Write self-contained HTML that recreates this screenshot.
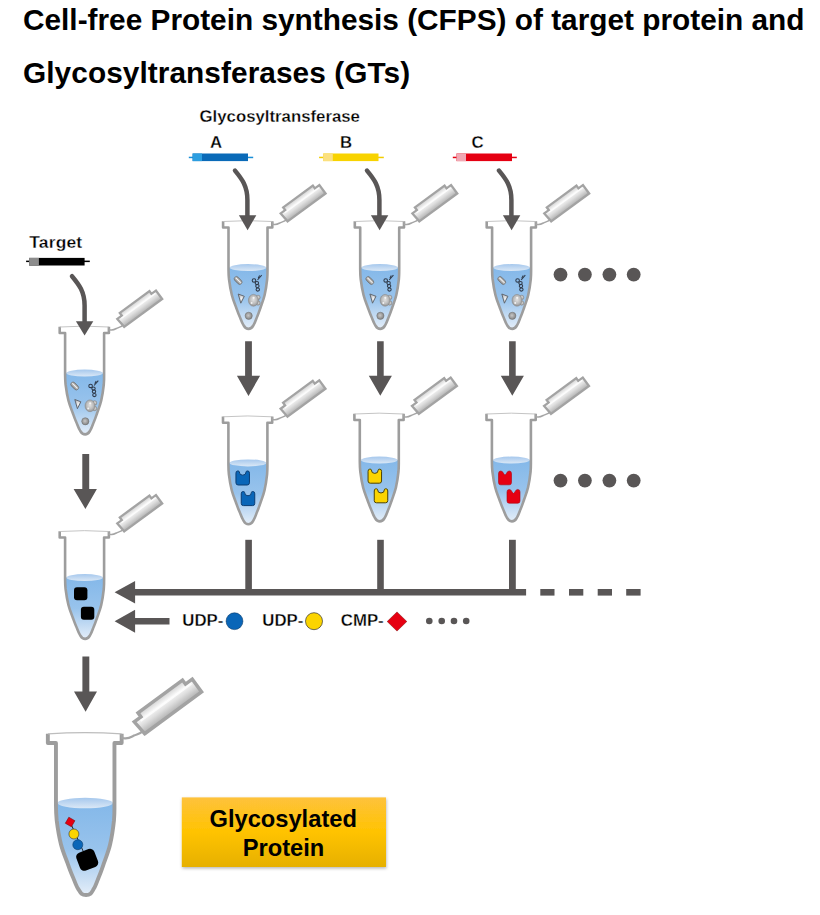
<!DOCTYPE html>
<html><head><meta charset="utf-8">
<style>
html,body{margin:0;padding:0;background:#fff;width:820px;height:915px;overflow:hidden}
svg{position:absolute;left:0;top:0}
text{font-family:"Liberation Sans",sans-serif;font-weight:bold;fill:#000}
.lt{stroke:#fff;stroke-width:0.3px}
</style></head><body>
<svg width="820" height="915" viewBox="0 0 820 915">
<defs>
  <linearGradient id="liq" x1="0" y1="0" x2="0" y2="1">
    <stop offset="0" stop-color="#84b8e9"/>
    <stop offset="0.5" stop-color="#98c3ec"/>
    <stop offset="1" stop-color="#e4eef9"/>
  </linearGradient>
  <linearGradient id="surf" x1="0" y1="0" x2="0" y2="1">
    <stop offset="0" stop-color="#a6c8ed"/>
    <stop offset="1" stop-color="#dbe8f6"/>
  </linearGradient>
  <linearGradient id="capg" x1="0" y1="1" x2="0" y2="0">
    <stop offset="0" stop-color="#b0b0b0"/>
    <stop offset="0.4" stop-color="#dedede"/>
    <stop offset="0.68" stop-color="#f6f6f6"/>
    <stop offset="1" stop-color="#cfcfcf"/>
  </linearGradient>
  <radialGradient id="ball" cx="0.45" cy="0.45" r="0.6">
    <stop offset="0" stop-color="#c8c8c8"/>
    <stop offset="1" stop-color="#7c7c7c"/>
  </radialGradient>
  <radialGradient id="blob" cx="0.5" cy="0.45" r="0.6">
    <stop offset="0" stop-color="#e2e2e2"/>
    <stop offset="0.55" stop-color="#bdbdbd"/>
    <stop offset="1" stop-color="#85888c"/>
  </radialGradient>
  <radialGradient id="tri" cx="0.55" cy="0.5" r="0.6">
    <stop offset="0" stop-color="#f4f4f4"/>
    <stop offset="1" stop-color="#a9adb3"/>
  </radialGradient>
  <linearGradient id="rod" x1="0" y1="0" x2="0" y2="1">
    <stop offset="0" stop-color="#8a8a8a"/>
    <stop offset="0.45" stop-color="#d4d4d4"/>
    <stop offset="1" stop-color="#7e7e7e"/>
  </linearGradient>
  <linearGradient id="box" x1="0" y1="0" x2="0" y2="1">
    <stop offset="0" stop-color="#fec23c"/>
    <stop offset="0.5" stop-color="#ffc300"/>
    <stop offset="1" stop-color="#e6b000"/>
  </linearGradient>
  <filter id="shd" x="-10%" y="-20%" width="120%" height="150%">
    <feDropShadow dx="0.5" dy="1.5" stdDeviation="1.6" flood-color="#000" flood-opacity="0.28"/>
  </filter>

  <!-- generic tube: origin at rim top centre -->
  

  

  
  
</defs>

<!-- Title -->
<text x="23" y="29.6" font-size="29.8">Cell-free Protein synthesis (CFPS) of target protein and</text>
<text x="23" y="82.9" font-size="29.8" letter-spacing="0.07">Glycosyltransferases (GTs)</text>

<!-- Glycosyltransferase label -->
<text x="199.5" y="122" class="lt" font-size="16.8">Glycosyltransferase</text>
<text x="210" y="148.3" class="lt" font-size="16.8">A</text>
<text x="340" y="148.3" class="lt" font-size="16.8">B</text>
<text x="471.5" y="148.3" class="lt" font-size="16.8">C</text>

<!-- primer bars -->
<g>
  <rect x="188.8" y="156.7" width="64.4" height="1.5" fill="#1a8fd8"/>
  <rect x="192.6" y="153.5" width="55.4" height="7.6" fill="#0a6ab8"/>
  <rect x="192.6" y="153.5" width="9.4" height="7.6" fill="#2c9ee0"/>
  <rect x="319.1" y="156.7" width="64.7" height="1.5" fill="#f2cd00"/>
  <rect x="323.2" y="153.5" width="55.3" height="7.6" fill="#f8d300"/>
  <rect x="323.2" y="153.5" width="9.6" height="7.6" fill="#fbe080"/>
  <rect x="452.8" y="156.7" width="64" height="1.5" fill="#e50012"/>
  <rect x="456.5" y="153.5" width="55.5" height="7.6" fill="#e50012"/>
  <rect x="456.5" y="153.5" width="9.5" height="7.6" fill="#f0a8b4"/>
  <rect x="26.1" y="260.6" width="63.7" height="1.5" fill="#000"/>
  <rect x="29.1" y="257.9" width="55.5" height="7.6" fill="#000"/>
  <rect x="29.1" y="257.9" width="9.8" height="7.6" fill="#8c8c8c"/>
</g>
<text x="29.3" y="248.4" font-size="17.4" class="lt" letter-spacing="0.2">Target</text>

<!-- tubes -->
<g transform="translate(248,221)" ><g>
    <path d="M-19.5,6.5 L-19.50,48 C-19.47,51 -19.45,53.7 -19.01,58 C-18.47,62.3 -17.36,69.25 -16.17,74 C-14.97,78.75 -13.16,82.92 -11.85,86.5 C-10.55,90.08 -9.65,92.72 -8.37,95.5 C-7.25,98 -6.22,101.4 -4.80,103.6 C-3.28,106 -2.86,107.9 0.54,107.9 C3.94,107.9 4.32,106 5.80,103.6 C7.18,101.4 8.15,98 9.23,95.5 C10.45,92.72 11.31,90.08 12.55,86.5 C13.78,82.92 15.53,78.75 16.63,74 C17.74,69.25 18.73,62.3 19.19,58 C19.55,53.7 19.53,51 19.50,48 L19.5,6.5 Z" fill="#fff"/>
    <path d="M-19.5,46.5 L-19.50,48 C-19.47,51 -19.45,53.7 -19.01,58 C-18.47,62.3 -17.36,69.25 -16.17,74 C-14.97,78.75 -13.16,82.92 -11.85,86.5 C-10.55,90.08 -9.65,92.72 -8.37,95.5 C-7.25,98 -6.22,101.4 -4.80,103.6 C-3.28,106 -2.86,107.9 0.54,107.9 C3.94,107.9 4.32,106 5.80,103.6 C7.18,101.4 8.15,98 9.23,95.5 C10.45,92.72 11.31,90.08 12.55,86.5 C13.78,82.92 15.53,78.75 16.63,74 C17.74,69.25 18.73,62.3 19.19,58 C19.55,53.7 19.53,51 19.50,48 L19.5,46.5 Z" fill="url(#liq)"/>
    <ellipse cx="0" cy="46.6" rx="18.5" ry="3.5" fill="url(#surf)"/>
    <path d="M-24.9,0.3 L-24.9,6.5 L-19.5,6.5 L-19.50,48 C-19.47,51 -19.45,53.7 -19.01,58 C-18.47,62.3 -17.36,69.25 -16.17,74 C-14.97,78.75 -13.16,82.92 -11.85,86.5 C-10.55,90.08 -9.65,92.72 -8.37,95.5 C-7.25,98 -6.22,101.4 -4.80,103.6 C-3.28,106 -2.86,107.9 0.54,107.9 C3.94,107.9 4.32,106 5.80,103.6 C7.18,101.4 8.15,98 9.23,95.5 C10.45,92.72 11.31,90.08 12.55,86.5 C13.78,82.92 15.53,78.75 16.63,74 C17.74,69.25 18.73,62.3 19.19,58 C19.55,53.7 19.53,51 19.50,48 L19.5,6.5 L24.3,6.5 L24.3,0.3" fill="none" stroke="#9d9d9d" stroke-width="2.6" stroke-linejoin="round"/>
    <path d="M-24.9,0.5 Q0,-1.2 24.3,0.5" fill="none" stroke="#bdbdbd" stroke-width="0.9"/>
    <path d="M24.3,0.8 L24.6,3.2 L26.5,3.4 C29,3.6 30.5,2.6 32.5,1.6 C34.5,0.6 36.5,0.6 38.5,-1.5" fill="none" stroke="#a5a5a5" stroke-width="1.5"/>
    <g transform="translate(39.4,1.9) rotate(-36.3)">
      <path d="M1.1,-1.1 L48.2,-1.1 L48.2,-11.6 L42.6,-11.6 L42.6,-15 L5.8,-15 L5.8,-11.6 L0.2,-11.6 Z" fill="url(#capg)" stroke="#a3a3a3" stroke-width="2.3" stroke-linejoin="miter"/>
      <path d="M4,-9.6 L46,-9.6" stroke="#ffffff" stroke-width="1.4" opacity="0.8"/>
    </g>
  </g></g>
<g transform="translate(248,221)" ><g>
    <g transform="translate(-9.9,59.5) rotate(45)">
      <rect x="-4.6" y="-2.3" width="9.2" height="4.6" rx="2.3" fill="url(#rod)" stroke="#6f6f6f" stroke-width="0.7"/>
      <path d="M-2.8,-0.3 L2.8,-0.3" stroke="#f4f4f4" stroke-width="0.9" stroke-linecap="round"/>
    </g>
    <g fill="none" stroke="#2f3a4a" stroke-width="1.05">
      <path d="M13.7,54.2 L9.5,59"/>
      <path d="M11.6,54.6 L10.2,57.2"/>
      <ellipse cx="6.0" cy="59.4" rx="1.8" ry="1.7"/>
      <ellipse cx="8.9" cy="62.0" rx="1.7" ry="1.6"/>
      <ellipse cx="9.4" cy="65.1" rx="1.7" ry="1.6"/>
      <ellipse cx="9.8" cy="68.5" rx="1.7" ry="1.6"/>
    </g>
    <path d="M-9.8,73 L-3.7,75.3 L-7.2,82.2 Z" fill="url(#tri)" stroke="#5a6068" stroke-width="0.9" stroke-linejoin="round"/>
    <g stroke="#8d8a86" stroke-width="0.55">
      <circle cx="10.0" cy="76.4" r="2.2" fill="url(#blob)"/>
      <circle cx="10.0" cy="82.0" r="2.2" fill="url(#blob)"/>
      <ellipse cx="5.4" cy="79.3" rx="5.0" ry="5.9" fill="url(#blob)"/>
    </g>
    <g fill="#ffffff" opacity="0.8">
      <circle cx="5.6" cy="76.8" r="1.1"/>
      <circle cx="3.6" cy="82.0" r="1.0"/>
    </g>
    <circle cx="0.7" cy="94.8" r="3.6" fill="url(#ball)" stroke="#6a6a6a" stroke-width="0.5"/>
  </g></g>
<g transform="translate(379.7,221)" ><g>
    <path d="M-19.5,6.5 L-19.50,48 C-19.47,51 -19.45,53.7 -19.01,58 C-18.47,62.3 -17.36,69.25 -16.17,74 C-14.97,78.75 -13.16,82.92 -11.85,86.5 C-10.55,90.08 -9.65,92.72 -8.37,95.5 C-7.25,98 -6.22,101.4 -4.80,103.6 C-3.28,106 -2.86,107.9 0.54,107.9 C3.94,107.9 4.32,106 5.80,103.6 C7.18,101.4 8.15,98 9.23,95.5 C10.45,92.72 11.31,90.08 12.55,86.5 C13.78,82.92 15.53,78.75 16.63,74 C17.74,69.25 18.73,62.3 19.19,58 C19.55,53.7 19.53,51 19.50,48 L19.5,6.5 Z" fill="#fff"/>
    <path d="M-19.5,46.5 L-19.50,48 C-19.47,51 -19.45,53.7 -19.01,58 C-18.47,62.3 -17.36,69.25 -16.17,74 C-14.97,78.75 -13.16,82.92 -11.85,86.5 C-10.55,90.08 -9.65,92.72 -8.37,95.5 C-7.25,98 -6.22,101.4 -4.80,103.6 C-3.28,106 -2.86,107.9 0.54,107.9 C3.94,107.9 4.32,106 5.80,103.6 C7.18,101.4 8.15,98 9.23,95.5 C10.45,92.72 11.31,90.08 12.55,86.5 C13.78,82.92 15.53,78.75 16.63,74 C17.74,69.25 18.73,62.3 19.19,58 C19.55,53.7 19.53,51 19.50,48 L19.5,46.5 Z" fill="url(#liq)"/>
    <ellipse cx="0" cy="46.6" rx="18.5" ry="3.5" fill="url(#surf)"/>
    <path d="M-24.9,0.3 L-24.9,6.5 L-19.5,6.5 L-19.50,48 C-19.47,51 -19.45,53.7 -19.01,58 C-18.47,62.3 -17.36,69.25 -16.17,74 C-14.97,78.75 -13.16,82.92 -11.85,86.5 C-10.55,90.08 -9.65,92.72 -8.37,95.5 C-7.25,98 -6.22,101.4 -4.80,103.6 C-3.28,106 -2.86,107.9 0.54,107.9 C3.94,107.9 4.32,106 5.80,103.6 C7.18,101.4 8.15,98 9.23,95.5 C10.45,92.72 11.31,90.08 12.55,86.5 C13.78,82.92 15.53,78.75 16.63,74 C17.74,69.25 18.73,62.3 19.19,58 C19.55,53.7 19.53,51 19.50,48 L19.5,6.5 L24.3,6.5 L24.3,0.3" fill="none" stroke="#9d9d9d" stroke-width="2.6" stroke-linejoin="round"/>
    <path d="M-24.9,0.5 Q0,-1.2 24.3,0.5" fill="none" stroke="#bdbdbd" stroke-width="0.9"/>
    <path d="M24.3,0.8 L24.6,3.2 L26.5,3.4 C29,3.6 30.5,2.6 32.5,1.6 C34.5,0.6 36.5,0.6 38.5,-1.5" fill="none" stroke="#a5a5a5" stroke-width="1.5"/>
    <g transform="translate(39.4,1.9) rotate(-36.3)">
      <path d="M1.1,-1.1 L48.2,-1.1 L48.2,-11.6 L42.6,-11.6 L42.6,-15 L5.8,-15 L5.8,-11.6 L0.2,-11.6 Z" fill="url(#capg)" stroke="#a3a3a3" stroke-width="2.3" stroke-linejoin="miter"/>
      <path d="M4,-9.6 L46,-9.6" stroke="#ffffff" stroke-width="1.4" opacity="0.8"/>
    </g>
  </g></g>
<g transform="translate(379.7,221)" ><g>
    <g transform="translate(-9.9,59.5) rotate(45)">
      <rect x="-4.6" y="-2.3" width="9.2" height="4.6" rx="2.3" fill="url(#rod)" stroke="#6f6f6f" stroke-width="0.7"/>
      <path d="M-2.8,-0.3 L2.8,-0.3" stroke="#f4f4f4" stroke-width="0.9" stroke-linecap="round"/>
    </g>
    <g fill="none" stroke="#2f3a4a" stroke-width="1.05">
      <path d="M13.7,54.2 L9.5,59"/>
      <path d="M11.6,54.6 L10.2,57.2"/>
      <ellipse cx="6.0" cy="59.4" rx="1.8" ry="1.7"/>
      <ellipse cx="8.9" cy="62.0" rx="1.7" ry="1.6"/>
      <ellipse cx="9.4" cy="65.1" rx="1.7" ry="1.6"/>
      <ellipse cx="9.8" cy="68.5" rx="1.7" ry="1.6"/>
    </g>
    <path d="M-9.8,73 L-3.7,75.3 L-7.2,82.2 Z" fill="url(#tri)" stroke="#5a6068" stroke-width="0.9" stroke-linejoin="round"/>
    <g stroke="#8d8a86" stroke-width="0.55">
      <circle cx="10.0" cy="76.4" r="2.2" fill="url(#blob)"/>
      <circle cx="10.0" cy="82.0" r="2.2" fill="url(#blob)"/>
      <ellipse cx="5.4" cy="79.3" rx="5.0" ry="5.9" fill="url(#blob)"/>
    </g>
    <g fill="#ffffff" opacity="0.8">
      <circle cx="5.6" cy="76.8" r="1.1"/>
      <circle cx="3.6" cy="82.0" r="1.0"/>
    </g>
    <circle cx="0.7" cy="94.8" r="3.6" fill="url(#ball)" stroke="#6a6a6a" stroke-width="0.5"/>
  </g></g>
<g transform="translate(511.6,221)" ><g>
    <path d="M-19.5,6.5 L-19.50,48 C-19.47,51 -19.45,53.7 -19.01,58 C-18.47,62.3 -17.36,69.25 -16.17,74 C-14.97,78.75 -13.16,82.92 -11.85,86.5 C-10.55,90.08 -9.65,92.72 -8.37,95.5 C-7.25,98 -6.22,101.4 -4.80,103.6 C-3.28,106 -2.86,107.9 0.54,107.9 C3.94,107.9 4.32,106 5.80,103.6 C7.18,101.4 8.15,98 9.23,95.5 C10.45,92.72 11.31,90.08 12.55,86.5 C13.78,82.92 15.53,78.75 16.63,74 C17.74,69.25 18.73,62.3 19.19,58 C19.55,53.7 19.53,51 19.50,48 L19.5,6.5 Z" fill="#fff"/>
    <path d="M-19.5,46.5 L-19.50,48 C-19.47,51 -19.45,53.7 -19.01,58 C-18.47,62.3 -17.36,69.25 -16.17,74 C-14.97,78.75 -13.16,82.92 -11.85,86.5 C-10.55,90.08 -9.65,92.72 -8.37,95.5 C-7.25,98 -6.22,101.4 -4.80,103.6 C-3.28,106 -2.86,107.9 0.54,107.9 C3.94,107.9 4.32,106 5.80,103.6 C7.18,101.4 8.15,98 9.23,95.5 C10.45,92.72 11.31,90.08 12.55,86.5 C13.78,82.92 15.53,78.75 16.63,74 C17.74,69.25 18.73,62.3 19.19,58 C19.55,53.7 19.53,51 19.50,48 L19.5,46.5 Z" fill="url(#liq)"/>
    <ellipse cx="0" cy="46.6" rx="18.5" ry="3.5" fill="url(#surf)"/>
    <path d="M-24.9,0.3 L-24.9,6.5 L-19.5,6.5 L-19.50,48 C-19.47,51 -19.45,53.7 -19.01,58 C-18.47,62.3 -17.36,69.25 -16.17,74 C-14.97,78.75 -13.16,82.92 -11.85,86.5 C-10.55,90.08 -9.65,92.72 -8.37,95.5 C-7.25,98 -6.22,101.4 -4.80,103.6 C-3.28,106 -2.86,107.9 0.54,107.9 C3.94,107.9 4.32,106 5.80,103.6 C7.18,101.4 8.15,98 9.23,95.5 C10.45,92.72 11.31,90.08 12.55,86.5 C13.78,82.92 15.53,78.75 16.63,74 C17.74,69.25 18.73,62.3 19.19,58 C19.55,53.7 19.53,51 19.50,48 L19.5,6.5 L24.3,6.5 L24.3,0.3" fill="none" stroke="#9d9d9d" stroke-width="2.6" stroke-linejoin="round"/>
    <path d="M-24.9,0.5 Q0,-1.2 24.3,0.5" fill="none" stroke="#bdbdbd" stroke-width="0.9"/>
    <path d="M24.3,0.8 L24.6,3.2 L26.5,3.4 C29,3.6 30.5,2.6 32.5,1.6 C34.5,0.6 36.5,0.6 38.5,-1.5" fill="none" stroke="#a5a5a5" stroke-width="1.5"/>
    <g transform="translate(39.4,1.9) rotate(-36.3)">
      <path d="M1.1,-1.1 L48.2,-1.1 L48.2,-11.6 L42.6,-11.6 L42.6,-15 L5.8,-15 L5.8,-11.6 L0.2,-11.6 Z" fill="url(#capg)" stroke="#a3a3a3" stroke-width="2.3" stroke-linejoin="miter"/>
      <path d="M4,-9.6 L46,-9.6" stroke="#ffffff" stroke-width="1.4" opacity="0.8"/>
    </g>
  </g></g>
<g transform="translate(511.6,221)" ><g>
    <g transform="translate(-9.9,59.5) rotate(45)">
      <rect x="-4.6" y="-2.3" width="9.2" height="4.6" rx="2.3" fill="url(#rod)" stroke="#6f6f6f" stroke-width="0.7"/>
      <path d="M-2.8,-0.3 L2.8,-0.3" stroke="#f4f4f4" stroke-width="0.9" stroke-linecap="round"/>
    </g>
    <g fill="none" stroke="#2f3a4a" stroke-width="1.05">
      <path d="M13.7,54.2 L9.5,59"/>
      <path d="M11.6,54.6 L10.2,57.2"/>
      <ellipse cx="6.0" cy="59.4" rx="1.8" ry="1.7"/>
      <ellipse cx="8.9" cy="62.0" rx="1.7" ry="1.6"/>
      <ellipse cx="9.4" cy="65.1" rx="1.7" ry="1.6"/>
      <ellipse cx="9.8" cy="68.5" rx="1.7" ry="1.6"/>
    </g>
    <path d="M-9.8,73 L-3.7,75.3 L-7.2,82.2 Z" fill="url(#tri)" stroke="#5a6068" stroke-width="0.9" stroke-linejoin="round"/>
    <g stroke="#8d8a86" stroke-width="0.55">
      <circle cx="10.0" cy="76.4" r="2.2" fill="url(#blob)"/>
      <circle cx="10.0" cy="82.0" r="2.2" fill="url(#blob)"/>
      <ellipse cx="5.4" cy="79.3" rx="5.0" ry="5.9" fill="url(#blob)"/>
    </g>
    <g fill="#ffffff" opacity="0.8">
      <circle cx="5.6" cy="76.8" r="1.1"/>
      <circle cx="3.6" cy="82.0" r="1.0"/>
    </g>
    <circle cx="0.7" cy="94.8" r="3.6" fill="url(#ball)" stroke="#6a6a6a" stroke-width="0.5"/>
  </g></g>
<g transform="translate(84.6,326.5)" ><g>
    <path d="M-19.5,6.5 L-19.50,48 C-19.47,51 -19.45,53.7 -19.01,58 C-18.47,62.3 -17.36,69.25 -16.17,74 C-14.97,78.75 -13.16,82.92 -11.85,86.5 C-10.55,90.08 -9.65,92.72 -8.37,95.5 C-7.25,98 -6.22,101.4 -4.80,103.6 C-3.28,106 -2.86,107.9 0.54,107.9 C3.94,107.9 4.32,106 5.80,103.6 C7.18,101.4 8.15,98 9.23,95.5 C10.45,92.72 11.31,90.08 12.55,86.5 C13.78,82.92 15.53,78.75 16.63,74 C17.74,69.25 18.73,62.3 19.19,58 C19.55,53.7 19.53,51 19.50,48 L19.5,6.5 Z" fill="#fff"/>
    <path d="M-19.5,46.5 L-19.50,48 C-19.47,51 -19.45,53.7 -19.01,58 C-18.47,62.3 -17.36,69.25 -16.17,74 C-14.97,78.75 -13.16,82.92 -11.85,86.5 C-10.55,90.08 -9.65,92.72 -8.37,95.5 C-7.25,98 -6.22,101.4 -4.80,103.6 C-3.28,106 -2.86,107.9 0.54,107.9 C3.94,107.9 4.32,106 5.80,103.6 C7.18,101.4 8.15,98 9.23,95.5 C10.45,92.72 11.31,90.08 12.55,86.5 C13.78,82.92 15.53,78.75 16.63,74 C17.74,69.25 18.73,62.3 19.19,58 C19.55,53.7 19.53,51 19.50,48 L19.5,46.5 Z" fill="url(#liq)"/>
    <ellipse cx="0" cy="46.6" rx="18.5" ry="3.5" fill="url(#surf)"/>
    <path d="M-24.9,0.3 L-24.9,6.5 L-19.5,6.5 L-19.50,48 C-19.47,51 -19.45,53.7 -19.01,58 C-18.47,62.3 -17.36,69.25 -16.17,74 C-14.97,78.75 -13.16,82.92 -11.85,86.5 C-10.55,90.08 -9.65,92.72 -8.37,95.5 C-7.25,98 -6.22,101.4 -4.80,103.6 C-3.28,106 -2.86,107.9 0.54,107.9 C3.94,107.9 4.32,106 5.80,103.6 C7.18,101.4 8.15,98 9.23,95.5 C10.45,92.72 11.31,90.08 12.55,86.5 C13.78,82.92 15.53,78.75 16.63,74 C17.74,69.25 18.73,62.3 19.19,58 C19.55,53.7 19.53,51 19.50,48 L19.5,6.5 L24.3,6.5 L24.3,0.3" fill="none" stroke="#9d9d9d" stroke-width="2.6" stroke-linejoin="round"/>
    <path d="M-24.9,0.5 Q0,-1.2 24.3,0.5" fill="none" stroke="#bdbdbd" stroke-width="0.9"/>
    <path d="M24.3,0.8 L24.6,3.2 L26.5,3.4 C29,3.6 30.5,2.6 32.5,1.6 C34.5,0.6 36.5,0.6 38.5,-1.5" fill="none" stroke="#a5a5a5" stroke-width="1.5"/>
    <g transform="translate(39.4,1.9) rotate(-36.3)">
      <path d="M1.1,-1.1 L48.2,-1.1 L48.2,-11.6 L42.6,-11.6 L42.6,-15 L5.8,-15 L5.8,-11.6 L0.2,-11.6 Z" fill="url(#capg)" stroke="#a3a3a3" stroke-width="2.3" stroke-linejoin="miter"/>
      <path d="M4,-9.6 L46,-9.6" stroke="#ffffff" stroke-width="1.4" opacity="0.8"/>
    </g>
  </g></g>
<g transform="translate(84.6,326.5)" ><g>
    <g transform="translate(-9.9,59.5) rotate(45)">
      <rect x="-4.6" y="-2.3" width="9.2" height="4.6" rx="2.3" fill="url(#rod)" stroke="#6f6f6f" stroke-width="0.7"/>
      <path d="M-2.8,-0.3 L2.8,-0.3" stroke="#f4f4f4" stroke-width="0.9" stroke-linecap="round"/>
    </g>
    <g fill="none" stroke="#2f3a4a" stroke-width="1.05">
      <path d="M13.7,54.2 L9.5,59"/>
      <path d="M11.6,54.6 L10.2,57.2"/>
      <ellipse cx="6.0" cy="59.4" rx="1.8" ry="1.7"/>
      <ellipse cx="8.9" cy="62.0" rx="1.7" ry="1.6"/>
      <ellipse cx="9.4" cy="65.1" rx="1.7" ry="1.6"/>
      <ellipse cx="9.8" cy="68.5" rx="1.7" ry="1.6"/>
    </g>
    <path d="M-9.8,73 L-3.7,75.3 L-7.2,82.2 Z" fill="url(#tri)" stroke="#5a6068" stroke-width="0.9" stroke-linejoin="round"/>
    <g stroke="#8d8a86" stroke-width="0.55">
      <circle cx="10.0" cy="76.4" r="2.2" fill="url(#blob)"/>
      <circle cx="10.0" cy="82.0" r="2.2" fill="url(#blob)"/>
      <ellipse cx="5.4" cy="79.3" rx="5.0" ry="5.9" fill="url(#blob)"/>
    </g>
    <g fill="#ffffff" opacity="0.8">
      <circle cx="5.6" cy="76.8" r="1.1"/>
      <circle cx="3.6" cy="82.0" r="1.0"/>
    </g>
    <circle cx="0.7" cy="94.8" r="3.6" fill="url(#ball)" stroke="#6a6a6a" stroke-width="0.5"/>
  </g></g>

<!-- curved arrows -->
<g fill="none" stroke="#595656" stroke-width="4.5" stroke-linecap="round">
  <path d="M235,170.6 C242,179 247.4,186 247.4,200 L247.4,218"/>
  <path d="M367,170.6 C374,179 379.4,186 379.4,200 L379.4,218"/>
  <path d="M499,170.6 C506,179 511.4,186 511.4,200 L511.4,218"/>
  <path d="M72,276.2 C79,284.6 84.6,291.6 84.6,305.6 L84.6,323.6"/>
</g>
<g fill="#595656">
  <path d="M238.9,215.2 L256.3,215.2 L247.6,230.3 Z"/>
  <path d="M370.9,215.2 L388.3,215.2 L379.6,230.3 Z"/>
  <path d="M502.9,215.2 L520.3,215.2 L511.6,230.3 Z"/>
  <path d="M75.9,321.2 L93.3,321.2 L84.6,335.6 Z"/>
</g>

<!-- dots row 1 & 2 -->
<g fill="#595656">
  <circle cx="560.5" cy="274.6" r="6.9"/><circle cx="584.9" cy="274.6" r="6.9"/>
  <circle cx="609.4" cy="274.6" r="6.9"/><circle cx="633.7" cy="274.6" r="6.9"/>
  <circle cx="560.5" cy="480.6" r="6.9"/><circle cx="584.9" cy="480.6" r="6.9"/>
  <circle cx="609.4" cy="480.6" r="6.9"/><circle cx="633.7" cy="480.6" r="6.9"/>
</g>

<!-- straight down arrows -->
<g fill="#595656">
  <path d="M245.1,341.3 H251.9 V375.8 H260.1 L248.5,395.9 L236.9,375.8 H245.1 Z"/>
  <path d="M377.1,341.3 H383.7 V375.8 H391.9 L380.3,395.7 L368.8,375.8 H377.1 Z"/>
  <path d="M509.1,341.3 H515.7 V375.8 H523.9 L512.3,395.7 L500.8,375.8 H509.1 Z"/>
  <path d="M82.3,454 H89.2 V489 H96.9 L85.4,509.1 L73.6,489 H82.3 Z"/>
  <path d="M82.4,656.5 H89.3 V691.6 H97 L85.6,711.7 L74,691.6 H82.4 Z"/>
</g>

<!-- row 2 tubes -->
<g transform="translate(247.9,416.3)" ><g>
    <path d="M-19.5,6.5 L-19.50,48 C-19.47,51 -19.45,53.7 -19.01,58 C-18.47,62.3 -17.36,69.25 -16.17,74 C-14.97,78.75 -13.16,82.92 -11.85,86.5 C-10.55,90.08 -9.65,92.72 -8.37,95.5 C-7.25,98 -6.22,101.4 -4.80,103.6 C-3.28,106 -2.86,107.9 0.54,107.9 C3.94,107.9 4.32,106 5.80,103.6 C7.18,101.4 8.15,98 9.23,95.5 C10.45,92.72 11.31,90.08 12.55,86.5 C13.78,82.92 15.53,78.75 16.63,74 C17.74,69.25 18.73,62.3 19.19,58 C19.55,53.7 19.53,51 19.50,48 L19.5,6.5 Z" fill="#fff"/>
    <path d="M-19.5,46.5 L-19.50,48 C-19.47,51 -19.45,53.7 -19.01,58 C-18.47,62.3 -17.36,69.25 -16.17,74 C-14.97,78.75 -13.16,82.92 -11.85,86.5 C-10.55,90.08 -9.65,92.72 -8.37,95.5 C-7.25,98 -6.22,101.4 -4.80,103.6 C-3.28,106 -2.86,107.9 0.54,107.9 C3.94,107.9 4.32,106 5.80,103.6 C7.18,101.4 8.15,98 9.23,95.5 C10.45,92.72 11.31,90.08 12.55,86.5 C13.78,82.92 15.53,78.75 16.63,74 C17.74,69.25 18.73,62.3 19.19,58 C19.55,53.7 19.53,51 19.50,48 L19.5,46.5 Z" fill="url(#liq)"/>
    <ellipse cx="0" cy="46.6" rx="18.5" ry="3.5" fill="url(#surf)"/>
    <path d="M-24.9,0.3 L-24.9,6.5 L-19.5,6.5 L-19.50,48 C-19.47,51 -19.45,53.7 -19.01,58 C-18.47,62.3 -17.36,69.25 -16.17,74 C-14.97,78.75 -13.16,82.92 -11.85,86.5 C-10.55,90.08 -9.65,92.72 -8.37,95.5 C-7.25,98 -6.22,101.4 -4.80,103.6 C-3.28,106 -2.86,107.9 0.54,107.9 C3.94,107.9 4.32,106 5.80,103.6 C7.18,101.4 8.15,98 9.23,95.5 C10.45,92.72 11.31,90.08 12.55,86.5 C13.78,82.92 15.53,78.75 16.63,74 C17.74,69.25 18.73,62.3 19.19,58 C19.55,53.7 19.53,51 19.50,48 L19.5,6.5 L24.3,6.5 L24.3,0.3" fill="none" stroke="#9d9d9d" stroke-width="2.6" stroke-linejoin="round"/>
    <path d="M-24.9,0.5 Q0,-1.2 24.3,0.5" fill="none" stroke="#bdbdbd" stroke-width="0.9"/>
    <path d="M24.3,0.8 L24.6,3.2 L26.5,3.4 C29,3.6 30.5,2.6 32.5,1.6 C34.5,0.6 36.5,0.6 38.5,-1.5" fill="none" stroke="#a5a5a5" stroke-width="1.5"/>
    <g transform="translate(39.4,1.9) rotate(-36.3)">
      <path d="M1.1,-1.1 L48.2,-1.1 L48.2,-11.6 L42.6,-11.6 L42.6,-15 L5.8,-15 L5.8,-11.6 L0.2,-11.6 Z" fill="url(#capg)" stroke="#a3a3a3" stroke-width="2.3" stroke-linejoin="miter"/>
      <path d="M4,-9.6 L46,-9.6" stroke="#ffffff" stroke-width="1.4" opacity="0.8"/>
    </g>
  </g></g>
<g transform="translate(379.3,413.5)" ><g>
    <path d="M-19.5,6.5 L-19.50,48 C-19.47,51 -19.45,53.7 -19.01,58 C-18.47,62.3 -17.36,69.25 -16.17,74 C-14.97,78.75 -13.16,82.92 -11.85,86.5 C-10.55,90.08 -9.65,92.72 -8.37,95.5 C-7.25,98 -6.22,101.4 -4.80,103.6 C-3.28,106 -2.86,107.9 0.54,107.9 C3.94,107.9 4.32,106 5.80,103.6 C7.18,101.4 8.15,98 9.23,95.5 C10.45,92.72 11.31,90.08 12.55,86.5 C13.78,82.92 15.53,78.75 16.63,74 C17.74,69.25 18.73,62.3 19.19,58 C19.55,53.7 19.53,51 19.50,48 L19.5,6.5 Z" fill="#fff"/>
    <path d="M-19.5,46.5 L-19.50,48 C-19.47,51 -19.45,53.7 -19.01,58 C-18.47,62.3 -17.36,69.25 -16.17,74 C-14.97,78.75 -13.16,82.92 -11.85,86.5 C-10.55,90.08 -9.65,92.72 -8.37,95.5 C-7.25,98 -6.22,101.4 -4.80,103.6 C-3.28,106 -2.86,107.9 0.54,107.9 C3.94,107.9 4.32,106 5.80,103.6 C7.18,101.4 8.15,98 9.23,95.5 C10.45,92.72 11.31,90.08 12.55,86.5 C13.78,82.92 15.53,78.75 16.63,74 C17.74,69.25 18.73,62.3 19.19,58 C19.55,53.7 19.53,51 19.50,48 L19.5,46.5 Z" fill="url(#liq)"/>
    <ellipse cx="0" cy="46.6" rx="18.5" ry="3.5" fill="url(#surf)"/>
    <path d="M-24.9,0.3 L-24.9,6.5 L-19.5,6.5 L-19.50,48 C-19.47,51 -19.45,53.7 -19.01,58 C-18.47,62.3 -17.36,69.25 -16.17,74 C-14.97,78.75 -13.16,82.92 -11.85,86.5 C-10.55,90.08 -9.65,92.72 -8.37,95.5 C-7.25,98 -6.22,101.4 -4.80,103.6 C-3.28,106 -2.86,107.9 0.54,107.9 C3.94,107.9 4.32,106 5.80,103.6 C7.18,101.4 8.15,98 9.23,95.5 C10.45,92.72 11.31,90.08 12.55,86.5 C13.78,82.92 15.53,78.75 16.63,74 C17.74,69.25 18.73,62.3 19.19,58 C19.55,53.7 19.53,51 19.50,48 L19.5,6.5 L24.3,6.5 L24.3,0.3" fill="none" stroke="#9d9d9d" stroke-width="2.6" stroke-linejoin="round"/>
    <path d="M-24.9,0.5 Q0,-1.2 24.3,0.5" fill="none" stroke="#bdbdbd" stroke-width="0.9"/>
    <path d="M24.3,0.8 L24.6,3.2 L26.5,3.4 C29,3.6 30.5,2.6 32.5,1.6 C34.5,0.6 36.5,0.6 38.5,-1.5" fill="none" stroke="#a5a5a5" stroke-width="1.5"/>
    <g transform="translate(39.4,1.9) rotate(-36.3)">
      <path d="M1.1,-1.1 L48.2,-1.1 L48.2,-11.6 L42.6,-11.6 L42.6,-15 L5.8,-15 L5.8,-11.6 L0.2,-11.6 Z" fill="url(#capg)" stroke="#a3a3a3" stroke-width="2.3" stroke-linejoin="miter"/>
      <path d="M4,-9.6 L46,-9.6" stroke="#ffffff" stroke-width="1.4" opacity="0.8"/>
    </g>
  </g></g>
<g transform="translate(511.4,413.5)" ><g>
    <path d="M-19.5,6.5 L-19.50,48 C-19.47,51 -19.45,53.7 -19.01,58 C-18.47,62.3 -17.36,69.25 -16.17,74 C-14.97,78.75 -13.16,82.92 -11.85,86.5 C-10.55,90.08 -9.65,92.72 -8.37,95.5 C-7.25,98 -6.22,101.4 -4.80,103.6 C-3.28,106 -2.86,107.9 0.54,107.9 C3.94,107.9 4.32,106 5.80,103.6 C7.18,101.4 8.15,98 9.23,95.5 C10.45,92.72 11.31,90.08 12.55,86.5 C13.78,82.92 15.53,78.75 16.63,74 C17.74,69.25 18.73,62.3 19.19,58 C19.55,53.7 19.53,51 19.50,48 L19.5,6.5 Z" fill="#fff"/>
    <path d="M-19.5,46.5 L-19.50,48 C-19.47,51 -19.45,53.7 -19.01,58 C-18.47,62.3 -17.36,69.25 -16.17,74 C-14.97,78.75 -13.16,82.92 -11.85,86.5 C-10.55,90.08 -9.65,92.72 -8.37,95.5 C-7.25,98 -6.22,101.4 -4.80,103.6 C-3.28,106 -2.86,107.9 0.54,107.9 C3.94,107.9 4.32,106 5.80,103.6 C7.18,101.4 8.15,98 9.23,95.5 C10.45,92.72 11.31,90.08 12.55,86.5 C13.78,82.92 15.53,78.75 16.63,74 C17.74,69.25 18.73,62.3 19.19,58 C19.55,53.7 19.53,51 19.50,48 L19.5,46.5 Z" fill="url(#liq)"/>
    <ellipse cx="0" cy="46.6" rx="18.5" ry="3.5" fill="url(#surf)"/>
    <path d="M-24.9,0.3 L-24.9,6.5 L-19.5,6.5 L-19.50,48 C-19.47,51 -19.45,53.7 -19.01,58 C-18.47,62.3 -17.36,69.25 -16.17,74 C-14.97,78.75 -13.16,82.92 -11.85,86.5 C-10.55,90.08 -9.65,92.72 -8.37,95.5 C-7.25,98 -6.22,101.4 -4.80,103.6 C-3.28,106 -2.86,107.9 0.54,107.9 C3.94,107.9 4.32,106 5.80,103.6 C7.18,101.4 8.15,98 9.23,95.5 C10.45,92.72 11.31,90.08 12.55,86.5 C13.78,82.92 15.53,78.75 16.63,74 C17.74,69.25 18.73,62.3 19.19,58 C19.55,53.7 19.53,51 19.50,48 L19.5,6.5 L24.3,6.5 L24.3,0.3" fill="none" stroke="#9d9d9d" stroke-width="2.6" stroke-linejoin="round"/>
    <path d="M-24.9,0.5 Q0,-1.2 24.3,0.5" fill="none" stroke="#bdbdbd" stroke-width="0.9"/>
    <path d="M24.3,0.8 L24.6,3.2 L26.5,3.4 C29,3.6 30.5,2.6 32.5,1.6 C34.5,0.6 36.5,0.6 38.5,-1.5" fill="none" stroke="#a5a5a5" stroke-width="1.5"/>
    <g transform="translate(39.4,1.9) rotate(-36.3)">
      <path d="M1.1,-1.1 L48.2,-1.1 L48.2,-11.6 L42.6,-11.6 L42.6,-15 L5.8,-15 L5.8,-11.6 L0.2,-11.6 Z" fill="url(#capg)" stroke="#a3a3a3" stroke-width="2.3" stroke-linejoin="miter"/>
      <path d="M4,-9.6 L46,-9.6" stroke="#ffffff" stroke-width="1.4" opacity="0.8"/>
    </g>
  </g></g>
<g transform="translate(84.6,531)" ><g>
    <path d="M-19.5,6.5 L-19.50,48 C-19.47,51 -19.45,53.7 -19.01,58 C-18.47,62.3 -17.36,69.25 -16.17,74 C-14.97,78.75 -13.16,82.92 -11.85,86.5 C-10.55,90.08 -9.65,92.72 -8.37,95.5 C-7.25,98 -6.22,101.4 -4.80,103.6 C-3.28,106 -2.86,107.9 0.54,107.9 C3.94,107.9 4.32,106 5.80,103.6 C7.18,101.4 8.15,98 9.23,95.5 C10.45,92.72 11.31,90.08 12.55,86.5 C13.78,82.92 15.53,78.75 16.63,74 C17.74,69.25 18.73,62.3 19.19,58 C19.55,53.7 19.53,51 19.50,48 L19.5,6.5 Z" fill="#fff"/>
    <path d="M-19.5,46.5 L-19.50,48 C-19.47,51 -19.45,53.7 -19.01,58 C-18.47,62.3 -17.36,69.25 -16.17,74 C-14.97,78.75 -13.16,82.92 -11.85,86.5 C-10.55,90.08 -9.65,92.72 -8.37,95.5 C-7.25,98 -6.22,101.4 -4.80,103.6 C-3.28,106 -2.86,107.9 0.54,107.9 C3.94,107.9 4.32,106 5.80,103.6 C7.18,101.4 8.15,98 9.23,95.5 C10.45,92.72 11.31,90.08 12.55,86.5 C13.78,82.92 15.53,78.75 16.63,74 C17.74,69.25 18.73,62.3 19.19,58 C19.55,53.7 19.53,51 19.50,48 L19.5,46.5 Z" fill="url(#liq)"/>
    <ellipse cx="0" cy="46.6" rx="18.5" ry="3.5" fill="url(#surf)"/>
    <path d="M-24.9,0.3 L-24.9,6.5 L-19.5,6.5 L-19.50,48 C-19.47,51 -19.45,53.7 -19.01,58 C-18.47,62.3 -17.36,69.25 -16.17,74 C-14.97,78.75 -13.16,82.92 -11.85,86.5 C-10.55,90.08 -9.65,92.72 -8.37,95.5 C-7.25,98 -6.22,101.4 -4.80,103.6 C-3.28,106 -2.86,107.9 0.54,107.9 C3.94,107.9 4.32,106 5.80,103.6 C7.18,101.4 8.15,98 9.23,95.5 C10.45,92.72 11.31,90.08 12.55,86.5 C13.78,82.92 15.53,78.75 16.63,74 C17.74,69.25 18.73,62.3 19.19,58 C19.55,53.7 19.53,51 19.50,48 L19.5,6.5 L24.3,6.5 L24.3,0.3" fill="none" stroke="#9d9d9d" stroke-width="2.6" stroke-linejoin="round"/>
    <path d="M-24.9,0.5 Q0,-1.2 24.3,0.5" fill="none" stroke="#bdbdbd" stroke-width="0.9"/>
    <path d="M24.3,0.8 L24.6,3.2 L26.5,3.4 C29,3.6 30.5,2.6 32.5,1.6 C34.5,0.6 36.5,0.6 38.5,-1.5" fill="none" stroke="#a5a5a5" stroke-width="1.5"/>
    <g transform="translate(39.4,1.9) rotate(-36.3)">
      <path d="M1.1,-1.1 L48.2,-1.1 L48.2,-11.6 L42.6,-11.6 L42.6,-15 L5.8,-15 L5.8,-11.6 L0.2,-11.6 Z" fill="url(#capg)" stroke="#a3a3a3" stroke-width="2.3" stroke-linejoin="miter"/>
      <path d="M4,-9.6 L46,-9.6" stroke="#ffffff" stroke-width="1.4" opacity="0.8"/>
    </g>
  </g></g>

<g transform="translate(242.7,478)" fill="#0a66b8" stroke="#0b3d73" stroke-width="1"><path d="M-6.75,-4.8 Q-6.75,-7 -5.2,-7 L-4.4,-7 Q-3.5,-7 -3.4,-6.1 A3.4,3.3 0 0 0 3.4,-6.1 Q3.5,-7 4.4,-7 L5.2,-7 Q6.75,-7 6.75,-4.8 L6.75,4.8 Q6.75,7 4.5,7 L-4.5,7 Q-6.75,7 -6.75,4.8 Z"/></g>
<g transform="translate(248,498.6)" fill="#0a66b8" stroke="#0b3d73" stroke-width="1"><path d="M-6.75,-4.8 Q-6.75,-7 -5.2,-7 L-4.4,-7 Q-3.5,-7 -3.4,-6.1 A3.4,3.3 0 0 0 3.4,-6.1 Q3.5,-7 4.4,-7 L5.2,-7 Q6.75,-7 6.75,-4.8 L6.75,4.8 Q6.75,7 4.5,7 L-4.5,7 Q-6.75,7 -6.75,4.8 Z"/></g>
<g transform="translate(374.8,476.2)" fill="#fbd400" stroke="#4d4300" stroke-width="1"><path d="M-6.75,-4.8 Q-6.75,-7 -5.2,-7 L-4.4,-7 Q-3.5,-7 -3.4,-6.1 A3.4,3.3 0 0 0 3.4,-6.1 Q3.5,-7 4.4,-7 L5.2,-7 Q6.75,-7 6.75,-4.8 L6.75,4.8 Q6.75,7 4.5,7 L-4.5,7 Q-6.75,7 -6.75,4.8 Z"/></g>
<g transform="translate(381,495.8)" fill="#fbd400" stroke="#4d4300" stroke-width="1"><path d="M-6.75,-4.8 Q-6.75,-7 -5.2,-7 L-4.4,-7 Q-3.5,-7 -3.4,-6.1 A3.4,3.3 0 0 0 3.4,-6.1 Q3.5,-7 4.4,-7 L5.2,-7 Q6.75,-7 6.75,-4.8 L6.75,4.8 Q6.75,7 4.5,7 L-4.5,7 Q-6.75,7 -6.75,4.8 Z"/></g>
<g transform="translate(505,478)" fill="#e60012" stroke="#b0000c" stroke-width="0.6"><path d="M-6.5,-4.5 Q-6.5,-7 -4.2,-7 Q-2.4,-7 -1.2,-4.2 L0,-2.8 L1.2,-4.2 Q2.4,-7 4.2,-7 Q6.5,-7 6.5,-4.5 L6.5,4.6 Q6.5,6.8 4.3,6.8 L-4.3,6.8 Q-6.5,6.8 -6.5,4.6 Z"/></g>
<g transform="translate(513.5,496.4)" fill="#e60012" stroke="#b0000c" stroke-width="0.6"><path d="M-6.5,-4.5 Q-6.5,-7 -4.2,-7 Q-2.4,-7 -1.2,-4.2 L0,-2.8 L1.2,-4.2 Q2.4,-7 4.2,-7 Q6.5,-7 6.5,-4.5 L6.5,4.6 Q6.5,6.8 4.3,6.8 L-4.3,6.8 Q-6.5,6.8 -6.5,4.6 Z"/></g>

<rect x="74" y="587.2" width="13.4" height="13" rx="3" fill="#000"/>
<rect x="80.9" y="606.7" width="13.4" height="13" rx="3" fill="#000"/>

<!-- big tube -->
<g transform="translate(85.2,733.2) scale(1.5)"><g transform="translate(0,0)" ><g>
    <path d="M-19.5,6.5 L-19.50,48 C-19.47,51 -19.45,53.7 -19.01,58 C-18.47,62.3 -17.36,69.25 -16.17,74 C-14.97,78.75 -13.16,82.92 -11.85,86.5 C-10.55,90.08 -9.65,92.72 -8.37,95.5 C-7.25,98 -6.22,101.4 -4.80,103.6 C-3.28,106 -2.86,107.9 0.54,107.9 C3.94,107.9 4.32,106 5.80,103.6 C7.18,101.4 8.15,98 9.23,95.5 C10.45,92.72 11.31,90.08 12.55,86.5 C13.78,82.92 15.53,78.75 16.63,74 C17.74,69.25 18.73,62.3 19.19,58 C19.55,53.7 19.53,51 19.50,48 L19.5,6.5 Z" fill="#fff"/>
    <path d="M-19.5,46.5 L-19.50,48 C-19.47,51 -19.45,53.7 -19.01,58 C-18.47,62.3 -17.36,69.25 -16.17,74 C-14.97,78.75 -13.16,82.92 -11.85,86.5 C-10.55,90.08 -9.65,92.72 -8.37,95.5 C-7.25,98 -6.22,101.4 -4.80,103.6 C-3.28,106 -2.86,107.9 0.54,107.9 C3.94,107.9 4.32,106 5.80,103.6 C7.18,101.4 8.15,98 9.23,95.5 C10.45,92.72 11.31,90.08 12.55,86.5 C13.78,82.92 15.53,78.75 16.63,74 C17.74,69.25 18.73,62.3 19.19,58 C19.55,53.7 19.53,51 19.50,48 L19.5,46.5 Z" fill="url(#liq)"/>
    <ellipse cx="0" cy="46.6" rx="18.5" ry="3.5" fill="url(#surf)"/>
    <path d="M-24.9,0.3 L-24.9,6.5 L-19.5,6.5 L-19.50,48 C-19.47,51 -19.45,53.7 -19.01,58 C-18.47,62.3 -17.36,69.25 -16.17,74 C-14.97,78.75 -13.16,82.92 -11.85,86.5 C-10.55,90.08 -9.65,92.72 -8.37,95.5 C-7.25,98 -6.22,101.4 -4.80,103.6 C-3.28,106 -2.86,107.9 0.54,107.9 C3.94,107.9 4.32,106 5.80,103.6 C7.18,101.4 8.15,98 9.23,95.5 C10.45,92.72 11.31,90.08 12.55,86.5 C13.78,82.92 15.53,78.75 16.63,74 C17.74,69.25 18.73,62.3 19.19,58 C19.55,53.7 19.53,51 19.50,48 L19.5,6.5 L24.3,6.5 L24.3,0.3" fill="none" stroke="#9d9d9d" stroke-width="2.6" stroke-linejoin="round"/>
    <path d="M-24.9,0.5 Q0,-1.2 24.3,0.5" fill="none" stroke="#bdbdbd" stroke-width="0.9"/>
    <path d="M24.3,0.8 L24.6,3.2 L26.5,3.4 C29,3.6 30.5,2.6 32.5,1.6 C34.5,0.6 36.5,0.6 38.5,-1.5" fill="none" stroke="#a5a5a5" stroke-width="1.5"/>
    <g transform="translate(39.4,1.9) rotate(-36.3)">
      <path d="M1.1,-1.1 L48.2,-1.1 L48.2,-11.6 L42.6,-11.6 L42.6,-15 L5.8,-15 L5.8,-11.6 L0.2,-11.6 Z" fill="url(#capg)" stroke="#a3a3a3" stroke-width="2.3" stroke-linejoin="miter"/>
      <path d="M4,-9.6 L46,-9.6" stroke="#ffffff" stroke-width="1.4" opacity="0.8"/>
    </g>
  </g></g></g>
<g>
  <path d="M70.1,822 L86.9,859.5" stroke="#000" stroke-width="0.8"/>
  <rect x="66.6" y="818.5" width="7" height="7" fill="#e60012" stroke="#7a0000" stroke-width="0.5" transform="rotate(30 70.1 822)"/>
  <circle cx="73.9" cy="834" r="5" fill="#fbd400" stroke="#333" stroke-width="0.6"/>
  <circle cx="77.8" cy="844.7" r="5" fill="#0a66b8" stroke="#0a3a6a" stroke-width="0.6"/>
  <rect x="77.6" y="850.2" width="19.2" height="19.2" rx="4.6" fill="#000" transform="rotate(-21 87.2 859.8)"/>
</g>

<!-- connector lines -->
<g fill="#595656">
  <rect x="245.3" y="539.8" width="6.6" height="52"/>
  <rect x="377.2" y="539.8" width="6.6" height="52"/>
  <rect x="509" y="539.8" width="6.8" height="52"/>
  <path d="M135.1,589 H526.1 V595.6 H135.1 V603.6 L114.6,592.3 L135.1,580.9 Z"/>
  <rect x="540.3" y="589" width="14.2" height="6.6"/>
  <rect x="569" y="589" width="14.3" height="6.6"/>
  <rect x="597.7" y="589" width="14.3" height="6.6"/>
  <rect x="626.2" y="589" width="14.4" height="6.6"/>
  <path d="M135.1,617.9 H169.5 V624.5 H135.1 V632.7 L114.6,621.2 L135.1,609.8 Z"/>
</g>

<!-- substrates -->
<text x="182.3" y="626" class="lt" font-size="16.8">UDP-</text>
<circle cx="234.5" cy="621.2" r="8.4" fill="#0a66b8" stroke="#0a3a6a" stroke-width="0.6"/>
<text x="262.3" y="626" class="lt" font-size="16.8">UDP-</text>
<circle cx="314" cy="621.2" r="8.5" fill="#fbd400" stroke="#333" stroke-width="0.7"/>
<text x="340.8" y="626" class="lt" font-size="16.8">CMP-</text>
<path d="M397,611.9 L406.8,621.5 L397,631.1 L387.2,621.5 Z" fill="#e60012" stroke="#7a0000" stroke-width="0.5"/>
<g fill="#595656">
  <circle cx="429.3" cy="621" r="3.3"/><circle cx="441.7" cy="621" r="3.3"/>
  <circle cx="454" cy="621" r="3.3"/><circle cx="466.2" cy="621" r="3.3"/>
</g>

<!-- yellow box -->
<rect x="181.8" y="797.4" width="204.2" height="69.6" fill="url(#box)" filter="url(#shd)"/>
<text x="283.2" y="827" font-size="23.7" text-anchor="middle">Glycosylated</text>
<text x="283.5" y="856" font-size="23.7" text-anchor="middle">Protein</text>
</svg>
</body></html>
